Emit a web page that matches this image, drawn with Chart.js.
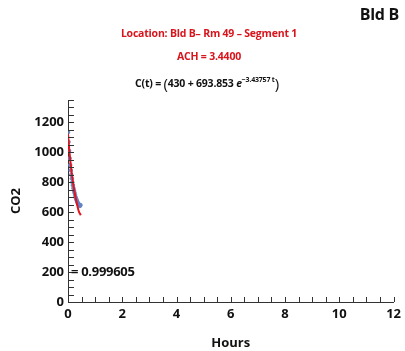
<!DOCTYPE html>
<html lang="en">
<head>
    <meta charset="UTF-8">
    <title>Bld B - Rm 49 - Segment 1</title>
    <script src="https://cdn.jsdelivr.net/npm/chart.js"></script>
    <style>
        body {
            margin: 0;
            padding: 0;
            background: #fff;
            font-family: "Open Sans", Lato, sans-serif;
        }
        .wrap {
            position: relative;
            width: 405px;
            height: 351px;
        }
        .lbl {
            position: absolute;
            font-weight: bold;
            white-space: nowrap;
        }
        .red { color: #d8141c; font-size: 10.5px; letter-spacing: -0.2px; }
        #bld { right: 6px; top: 3px; font-size: 16px; color: #111; letter-spacing: -0.3px; }
        #loc { left: 0; width: 418px; text-align: center; top: 26px; }
        #ach { left: 0; width: 418px; text-align: center; top: 49px; }
        #eq { left: 0; width: 414px; text-align: center; top: 73px; font-size: 10.5px; color: #111; letter-spacing: -0.2px; }
        #eq .par { font-size: 15px; font-weight: normal; vertical-align: -2px; }
        #eq sup { font-size: 7px; vertical-align: 5px; }
        #r2 { left: 71px; top: 262px; font-size: 13px; color: #111; letter-spacing: -0.3px; }
    </style>
</head>
<body>
<div class="wrap">
    <canvas id="chart" width="405" height="351"></canvas>
    <div class="lbl" id="bld">Bld B</div>
    <div class="lbl red" id="loc">Location: Bld B– Rm 49 – Segment 1</div>
    <div class="lbl red" id="ach">ACH = 3.4400</div>
    <div class="lbl" id="eq">C(t) = <span class="par">(</span>430 + 693.853 <i>e</i><sup>−3.43757 t</sup><span class="par">)</span></div>
    <div class="lbl" id="r2">= 0.999605</div>
</div>

<script>
    // measured CO2 (blue dots)
    const hours = [0.00, 0.02, 0.04, 0.06, 0.08, 0.10, 0.12, 0.14, 0.16, 0.18, 0.20, 0.22,
                   0.24, 0.26, 0.28, 0.30, 0.32, 0.34, 0.36, 0.38, 0.40, 0.42, 0.44, 0.46];
    const co2 = [1135, 1070, 1010, 960, 915, 880, 850, 825, 800, 780, 760, 745,
                 730, 715, 700, 690, 680, 670, 662, 655, 650, 645, 642, 648];

    // fitted decay curve (red)
    const fitHours = [0, 0.05, 0.10, 0.15, 0.20, 0.25, 0.30, 0.35, 0.40, 0.47];
    const fitCo2 = [1124, 1010, 920, 845, 780, 725, 680, 640, 605, 580];

    const xTicks = [0, 2, 4, 6, 8, 10, 12];
    const yTicks = [0, 200, 400, 600, 800, 1000, 1200];
    const xMinor = 0.5;
    const yMinor = 50;

    const tickFont = { family: 'Open Sans', size: 13, weight: 'bold' };

    // small tick marks drawn inside the plot, like the original
    const innerTicks = {
        id: 'innerTicks',
        afterDraw(chart) {
            const ctx = chart.ctx;
            const x = chart.scales.x, y = chart.scales.y;
            ctx.save();
            ctx.strokeStyle = '#333';
            ctx.lineWidth = 1;
            ctx.beginPath();
            for (let v = y.min; v <= y.max; v += yMinor) {
                const py = Math.round(y.getPixelForValue(v)) + 0.5;
                ctx.moveTo(x.left, py);
                ctx.lineTo(x.left + 6, py);
            }
            for (let v = x.min; v <= x.max; v += xMinor) {
                const px = Math.round(x.getPixelForValue(v)) + 0.5;
                ctx.moveTo(px, y.bottom);
                ctx.lineTo(px, y.bottom - 5);
            }
            ctx.stroke();
            ctx.restore();
        }
    };

    const ctx = document.getElementById('chart').getContext('2d');
    new Chart(ctx, {
        type: 'scatter',
        data: {
            datasets: [{
                label: 'Fit',
                type: 'line',
                data: fitHours.map((t, i) => ({ x: t, y: fitCo2[i] })),
                borderColor: '#e4121b',
                borderWidth: 2,
                pointRadius: 0,
                tension: 0.4,
                fill: false,
                order: 1
            }, {
                label: 'CO2',
                data: hours.map((t, i) => ({ x: t, y: co2[i] })),
                backgroundColor: 'rgba(95,130,195,0.85)',
                borderColor: 'rgba(95,130,195,0.85)',
                pointRadius: 1.8,
                order: 2
            }]
        },
        options: {
            responsive: false,
            animation: false,
            layout: { padding: { top: 100, right: 5, left: 0, bottom: 0 } },
            plugins: {
                legend: { display: false },
                tooltip: { enabled: false }
            },
            scales: {
                x: {
                    type: 'linear',
                    min: 0,
                    max: 12,
                    afterFit: s => { s.height = 49; },
                    afterBuildTicks: s => { s.ticks = xTicks.map(v => ({ value: v })); },
                    grid: { display: false, drawTicks: false },
                    border: { color: '#333', width: 1 },
                    ticks: { font: tickFont, color: '#111', padding: 4, callback: v => String(v) },
                    title: { display: true, text: 'Hours', font: tickFont, color: '#111', padding: { top: 0, bottom: 0 } }
                },
                y: {
                    min: 0,
                    max: 1350,
                    afterFit: s => { s.width = 68; },
                    afterBuildTicks: s => { s.ticks = yTicks.map(v => ({ value: v })); },
                    grid: { display: false, drawTicks: false },
                    border: { color: '#333', width: 1 },
                    ticks: { font: tickFont, color: '#111', padding: 4, callback: v => String(v) },
                    title: { display: true, text: 'CO2', font: tickFont, color: '#111', padding: { bottom: 0, top: 8 } }
                }
            }
        },
        plugins: [innerTicks]
    });
</script>
</body>
</html>
